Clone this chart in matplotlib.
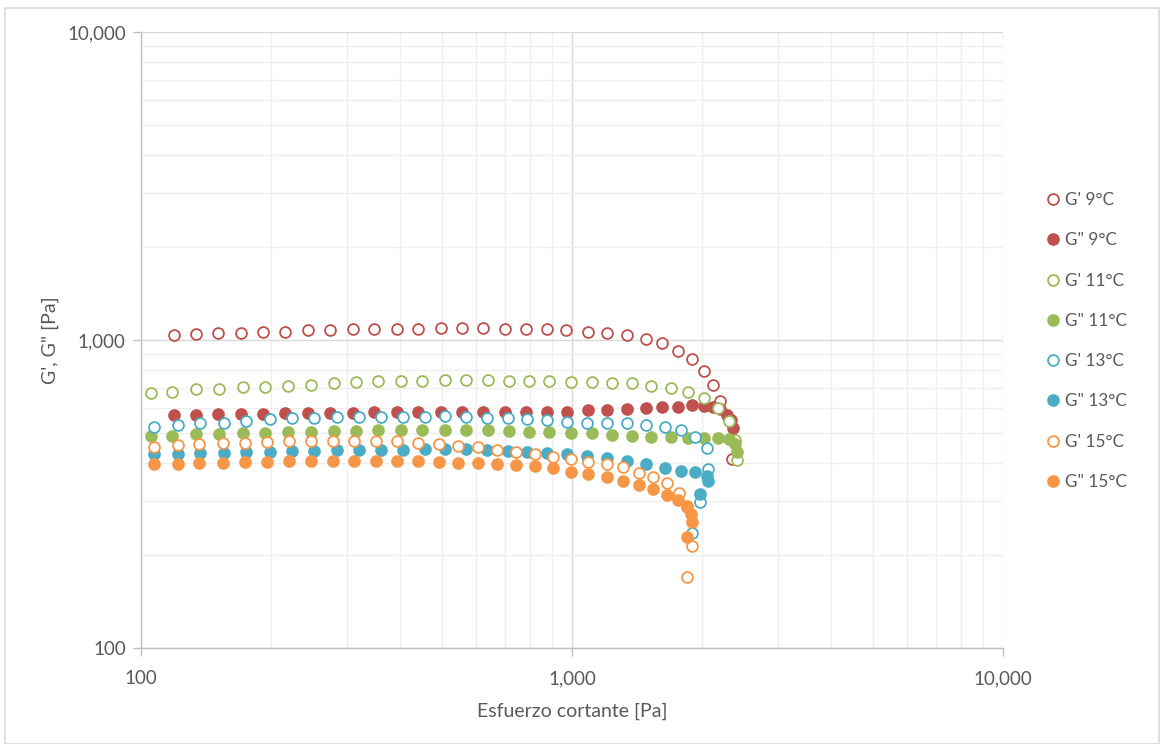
import matplotlib
matplotlib.use("Agg")
import matplotlib.pyplot as plt
from matplotlib.ticker import FuncFormatter, LogLocator, NullFormatter
from matplotlib.patches import Rectangle

plt.rcParams['font.family'] = ['Lato', 'DejaVu Sans']

# esfuerzo cortante [Pa] y modulos [Pa]
x_9 = [119.5, 134.1, 151.1, 170.3, 192.2, 216.2, 244.4, 274.9, 309.9, 347.8,
       392.0, 440.0, 496.0, 554.8, 622.7, 699.1, 780.9, 873.6, 968.5, 1091,
       1207, 1340, 1483, 1615, 1759, 1895, 2028, 2121, 2200, 2350]
gp_9 = [1038, 1046, 1051, 1051, 1059, 1059, 1078, 1078, 1086, 1086,
        1086, 1086, 1096, 1096, 1096, 1086, 1086, 1086, 1078, 1059,
        1051, 1038, 1005, 975.6, 923.2, 867.9, 795.1, 712.6, 635.2, 410.8]

x2_9 = [119.5, 134.1, 151.1, 170.3, 192.2, 216.2, 244.4, 274.9, 309.9, 347.8,
        392.0, 440.0, 496.0, 554.8, 622.7, 699.1, 780.9, 873.6, 972.0, 1091,
        1207, 1340, 1483, 1615, 1759, 1895, 2028, 2121, 2205, 2285, 2338, 2367]
gpp_9 = [570.6, 570.6, 575.0, 575.0, 575.0, 580.7, 580.7, 580.7, 580.7, 585.1,
         585.1, 585.1, 585.1, 585.1, 585.1, 585.1, 585.1, 585.1, 585.1, 592.6,
         592.6, 595.7, 600.2, 604.7, 607.4, 615.2, 612.0, 607.4, 595.7, 570.6,
         549.6, 516.8]

x_11 = [105.5, 118.2, 134.1, 151.9, 172.7, 194.3, 219.0, 248.0, 280.0, 315.9,
        355.3, 401.1, 449.5, 507.5, 567.7, 637.5, 714.3, 796.0, 885.7, 994.7,
        1111, 1240, 1376, 1525, 1697, 1861, 2028, 2180, 2317, 2389, 2411]
gp_11 = [671.3, 679.4, 691.7, 694.9, 702.2, 705.4, 710.7, 716.0, 723.6, 732.3,
         736.2, 736.2, 736.2, 741.7, 741.7, 741.7, 736.2, 736.2, 736.2, 729.1,
         729.1, 723.6, 723.6, 710.7, 697.0, 679.4, 646.8, 600.2, 545.8, 473.4, 407.8]
gpp_11 = [489.0, 489.0, 494.1, 495.3, 497.9, 500.2, 503.9, 503.9, 507.7, 507.7,
          510.3, 510.3, 510.3, 510.3, 510.3, 510.3, 507.7, 503.9, 503.9, 497.9,
          497.9, 491.3, 487.9, 485.3, 485.3, 481.8, 481.8, 481.8, 476.0, 458.6, 433.8]

x_13 = [107.4, 122.0, 137.0, 156.1, 175.2, 199.2, 224.4, 252.4, 284.5, 320.5,
        359.9, 404.8, 456.0, 507.5, 567.7, 634.2, 709.3, 787.6, 876.4, 972.0,
        1082, 1204, 1340, 1483, 1643, 1787, 1929, 2054, 2064, 1982, 1895]
gp_13 = [523.0, 529.7, 536.4, 538.9, 547.0, 552.7, 556.9, 556.9, 561.1, 563.7,
         563.7, 563.7, 563.7, 566.6, 561.1, 556.9, 556.9, 552.7, 549.6, 542.9,
         538.9, 536.4, 536.4, 529.7, 523.0, 510.3, 485.3, 446.8, 380.2, 298.5, 235.7]
x2_13 = x_13[:30]
gpp_13 = [426.4, 426.4, 430.5, 430.5, 433.8, 433.8, 437.0, 437.0, 439.4, 439.4,
          439.4, 439.4, 441.6, 442.6, 441.6, 439.4, 437.0, 433.8, 430.5, 426.4,
          421.1, 412.9, 405.6, 394.9, 385.5, 375.6, 371.4, 363.1, 348.5, 316.2]

x_15 = [107.4, 122.0, 136.3, 154.7, 174.3, 196.4, 220.9, 248.0, 279.4, 312.6,
        350.4, 392.0, 440.0, 491.5, 544.8, 606.3, 671.0, 741.6, 820.6, 904.9,
        994.7, 1091, 1204, 1311, 1433, 1544, 1658, 1771, 1848, 1901, 1845]
gp_15 = [450.3, 456.0, 459.5, 461.9, 464.0, 466.4, 470.0, 470.0, 470.0, 470.0,
         470.0, 470.0, 461.9, 458.6, 452.6, 448.3, 439.4, 433.8, 426.4, 417.9,
         409.9, 402.6, 395.8, 386.1, 370.9, 360.0, 342.6, 319.2, 287.0, 214.4, 170.3]
x2_15 = [107.4, 122.0, 136.3, 154.7, 174.3, 196.4, 220.9, 248.0, 279.4, 312.6,
         350.4, 392.0, 440.0, 491.5, 544.8, 606.3, 671.0, 741.6, 820.6, 904.9,
         994.7, 1091, 1204, 1311, 1433, 1544, 1658, 1759, 1845, 1885, 1901, 1845]
gpp_15 = [395.8, 395.8, 399.6, 399.6, 401.7, 402.6, 405.6, 405.6, 405.6, 405.6,
          405.6, 405.6, 405.6, 402.6, 399.6, 397.9, 395.8, 392.9, 390.0, 383.4,
          372.7, 367.2, 358.3, 349.3, 338.2, 328.2, 314.0, 302.4, 289.7, 272.4,
          257.0, 228.8]

series = [
    ("G' 9°C", x_9, gp_9, '#C0504D', False),
    ('G" 9°C', x2_9, gpp_9, '#C0504D', True),
    ("G' 11°C", x_11, gp_11, '#9BBB59', False),
    ('G" 11°C', x_11, gpp_11, '#9BBB59', True),
    ("G' 13°C", x_13, gp_13, '#4BACC6', False),
    ('G" 13°C', x2_13, gpp_13, '#4BACC6', True),
    ("G' 15°C", x_15, gp_15, '#F79646', False),
    ('G" 15°C', x2_15, gpp_15, '#F79646', True),
]

fig = plt.figure(figsize=(11.61, 7.44), dpi=100)
ax = fig.add_axes([141 / 1161, 1 - 648 / 744, (1003 - 141) / 1161, (648 - 32) / 744])

for i, (lab, xs, ys, col, filled) in enumerate(series):
    ax.plot(xs, ys, linestyle='none', marker='o', markersize=7.8,
            markerfacecolor=col if filled else 'white', markeredgecolor=col,
            markeredgewidth=1.3, label=lab, zorder=3 + i)

ax.set_xscale('log')
ax.set_yscale('log')
ax.set_xlim(100, 10000)
ax.set_ylim(100, 10000)

fmt = FuncFormatter(lambda v, p: f'{v:,.0f}')
ax.xaxis.set_major_formatter(fmt)
ax.yaxis.set_major_formatter(fmt)
ax.xaxis.set_minor_locator(LogLocator(base=10, subs=range(2, 10)))
ax.yaxis.set_minor_locator(LogLocator(base=10, subs=range(2, 10)))
ax.xaxis.set_minor_formatter(NullFormatter())
ax.yaxis.set_minor_formatter(NullFormatter())

ax.grid(True, which='major', color='#d9d9d9', linewidth=1.0, zorder=0)
ax.grid(True, which='minor', color='#efefef', linewidth=1.0, zorder=0)
ax.set_axisbelow(True)

for s in ['top', 'right']:
    ax.spines[s].set_visible(False)
for s in ['left', 'bottom']:
    ax.spines[s].set_color('#bfbfbf')
    ax.spines[s].set_linewidth(1.0)

ax.tick_params(which='major', direction='out', length=6, width=1, color='#bfbfbf',
               labelcolor='#595959', labelsize=13.5, pad=5)
ax.tick_params(axis='x', which='major', pad=10)
ax.tick_params(which='minor', length=0)

ax.set_xlabel('Esfuerzo cortante [Pa]', color='#595959', fontsize=14, labelpad=11)
ax.set_ylabel('G\', G" [Pa]', color='#595959', fontsize=14, labelpad=6)

leg = fig.legend(loc='center left', bbox_to_anchor=(1040 / 1161, 1 - 341 / 744),
                 frameon=False, fontsize=12.3, labelspacing=1.42, handlelength=0.7,
                 handletextpad=0.35, borderaxespad=0)
for t in leg.get_texts():
    t.set_color('#595959')

fig.patches.append(Rectangle((5 / 1161, 0), 1 - 7 / 1161, 1 - 8 / 744,
                             transform=fig.transFigure, fill=False,
                             edgecolor='#d9d9d9', linewidth=1.2))

fig.savefig('out.png', dpi=100)
